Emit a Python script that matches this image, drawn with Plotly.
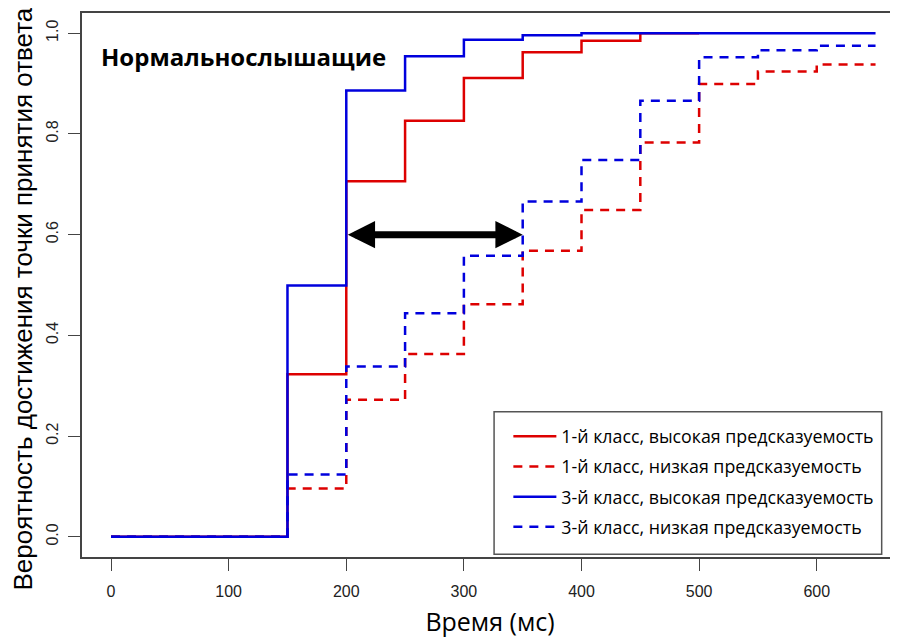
import plotly.graph_objects as go

# ---- data ----
times_full = [0, 150, 200, 250, 300, 350, 400, 450, 500, 550, 600, 650]
times_red_high = [0, 150, 200, 250, 300, 350, 400, 450, 500]

red_high = [0.0, 0.323, 0.706, 0.826, 0.911, 0.962, 0.985, 1.0, 1.0]
red_low = [0.0, 0.096, 0.272, 0.363, 0.462, 0.568, 0.649, 0.783, 0.899, 0.924, 0.938, 0.938]
blue_high = [0.0, 0.499, 0.886, 0.954, 0.987, 0.996, 1.0, 1.0, 1.0, 1.0, 1.0, 1.0]
blue_low = [0.0, 0.124, 0.338, 0.444, 0.558, 0.666, 0.748, 0.866, 0.952, 0.966, 0.975, 0.975]

series_names = [
    "1-й класс, высокая предсказуемость",
    "1-й класс, низкая предсказуемость",
    "3-й класс, высокая предсказуемость",
    "3-й класс, низкая предсказуемость",
]

x_ticks = [0, 100, 200, 300, 400, 500, 600]
y_ticks = [0.0, 0.2, 0.4, 0.6, 0.8, 1.0]
y_tick_labels = ["0.0", "0.2", "0.4", "0.6", "0.8", "1.0"]

arrow_x = [200, 350]
arrow_y = 0.6

title_text = "Нормальнослышащие"
x_title = "Время (мс)"
y_title = "Вероятность достижения точки принятия ответа"

RED = "#dd0000"
BLUE = "#0000dd"
TICKFONT = "Liberation Sans, Arial"

fig = go.Figure()
specs = [
    (times_red_high, red_high, RED, "solid"),
    (times_full, red_low, RED, "9px,7px"),
    (times_full, blue_high, BLUE, "solid"),
    (times_full, blue_low, BLUE, "9px,7px"),
]
for i, (xs, ys, col, dash) in enumerate(specs):
    fig.add_trace(go.Scatter(
        x=xs, y=ys, mode="lines", line_shape="hv",
        line=dict(color=col, width=2.5, dash=dash),
        name=series_names[i], legendgroup="g%d" % i,
    ))

fig.add_annotation(
    x=arrow_x[1], y=arrow_y, ax=arrow_x[0], ay=arrow_y,
    xref="x", yref="y", axref="x", ayref="y",
    text="", showarrow=True, arrowhead=2, arrowside="end+start",
    arrowwidth=7, arrowsize=0.78, arrowcolor="black", standoff=0, startstandoff=0,
)

fig.add_annotation(
    x=0.0212, y=0.92, xref="paper", yref="paper", xanchor="left", yanchor="middle",
    text="<b>%s</b>" % title_text, showarrow=False,
    font=dict(family="Open Sans", size=24, color="black"),
)

# y-axis title (placed as rotated text, slightly below the plot centre as in the original)
fig.add_annotation(
    x=-0.0719, y=0.474, xref="paper", yref="paper", xanchor="center", yanchor="middle",
    text=y_title, textangle=-90, showarrow=False,
    font=dict(family="Liberation Sans, Arial", size=26, color="black"),
)

fig.add_shape(type="rect", xref="paper", yref="paper",
              x0=0.505, x1=0.980, y0=0.005, y1=0.2668,
              line=dict(color="#555555", width=1.5), fillcolor="white", layer="below")

# the page body has an 8px default margin; margins compensate for it
fig.update_layout(
    width=898, height=637,
    margin=dict(l=73.7, r=8, t=5.3, b=88.3),
    paper_bgcolor="white", plot_bgcolor="white",
    showlegend=True,
    legend=dict(
        x=0.5225, y=0.255, xanchor="left", yanchor="top",
        bgcolor="rgba(0,0,0,0)", borderwidth=0,
        font=dict(family="Open Sans", size=17.8, color="black"),
        tracegroupgap=4, itemwidth=43,
    ),
    xaxis=dict(
        range=[-24.7, 669.1], tickvals=x_ticks, ticks="outside", ticklen=12,
        tickcolor="#444444", showline=True, linecolor="#444444", linewidth=2,
        mirror=True, showgrid=False, zeroline=False, automargin=False,
        ticklabelstandoff=7,
        tickfont=dict(family=TICKFONT, size=16, color="#222222"),
        title=dict(text=x_title, font=dict(family="Open Sans", size=25, color="black"), standoff=14),
    ),
    yaxis=dict(
        range=[-0.04, 1.04], tickvals=y_ticks, ticktext=y_tick_labels, ticks="outside", ticklen=12,
        tickcolor="#444444", showline=True, linecolor="#444444", linewidth=2,
        showgrid=False, zeroline=False, tickangle=-90, automargin=False,
        ticklabelstandoff=4,
        tickfont=dict(family=TICKFONT, size=16, color="#222222"),
    ),
)

fig.write_html("out.html")
